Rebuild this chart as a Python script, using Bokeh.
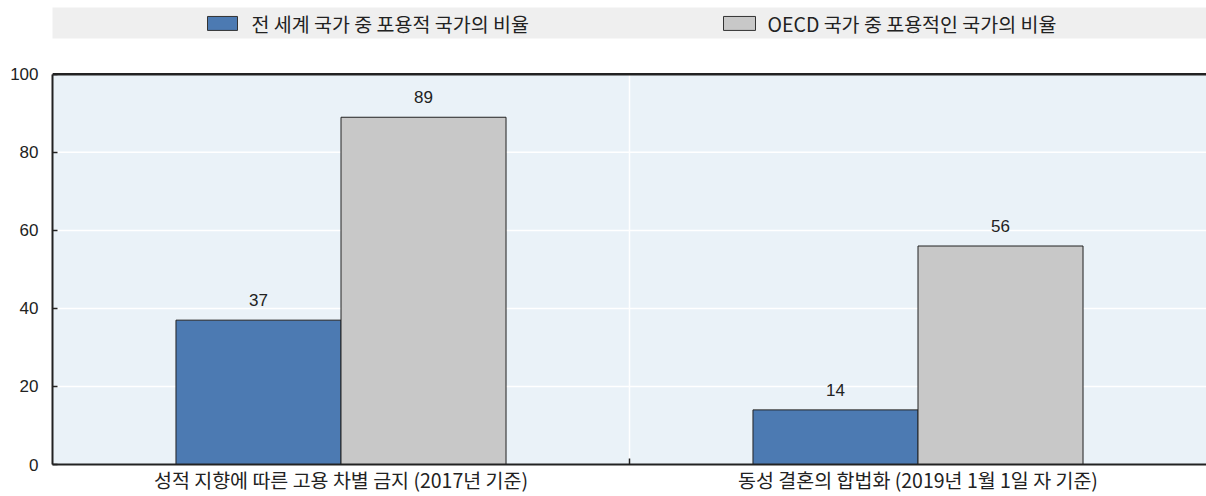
from bokeh.plotting import figure
from bokeh.models import Range1d, FixedTicker, ColumnDataSource
from bokeh.embed import file_html
from bokeh.resources import INLINE
from bokeh.core.properties import value
import numpy as np

# ---- data ----
categories = ["성적 지향에 따른 고용 차별 금지 (2017년 기준)", "동성 결혼의 합법화 (2019년 1월 1일 자 기준)"]
series_names = ["전 세계 국가 중 포용적 국가의 비율", "OECD 국가 중 포용적인 국가의 비율"]
world_values = [37, 14]
oecd_values = [89, 56]
y_ticks = [0, 20, 40, 60, 80, 100]

BLUE = "#4C7AB2"
GRAY = "#C8C8C8"
BG = "#EAF2F8"
BAND = "#EFEFEF"
DARK = "#222222"
TXT = "#222222"
KFONT = "Noto Sans CJK KR"
NFONT = "Liberation Sans"

W, H = 1206, 496
LEFT, BOTTOM = 52, 31
frame_w = W - LEFT
frame_h = H - BOTTOM
ymax_plot = 100.0
px_per_unit = 391.0 / ymax_plot          # 100 units span 391 px
y_top = frame_h / px_per_unit             # top of frame in data units
ncat = len(categories)
px_per_x = frame_w / ncat

def py(page_y):   # page pixel y -> data y
    return (frame_h - page_y) / px_per_unit

def px(page_x):   # page pixel x -> data x
    return (page_x - LEFT) / px_per_x

p = figure(width=W, height=H, x_range=Range1d(0, ncat), y_range=Range1d(0, y_top),
           toolbar_location=None, output_backend="svg",
           min_border_left=LEFT, min_border_right=0, min_border_top=0, min_border_bottom=BOTTOM)
p.background_fill_color = "white"
p.border_fill_color = "white"
p.outline_line_color = None
p.grid.visible = False

# plot-area background
p.quad(left=[0], right=[ncat], bottom=[0], top=[ymax_plot], fill_color=BG, line_color=None)
# horizontal white grid lines
gy = y_ticks[1:-1]
p.segment(x0=[0] * len(gy), x1=[ncat] * len(gy), y0=gy, y1=gy, line_color="white", line_width=1.5)
# vertical separator between categories
sep = list(np.arange(1, ncat))
p.segment(x0=sep, x1=sep, y0=[0] * len(sep), y1=[ymax_plot] * len(sep), line_color="white", line_width=1.5)

xc = np.arange(ncat) + 0.5
bw = 0.286
src = ColumnDataSource(dict(xw=xc - bw / 2, xo=xc + bw / 2, w=world_values, o=oecd_values,
                            wl=[str(v) for v in world_values], ol=[str(v) for v in oecd_values]))
p.vbar(x="xw", top="w", width=bw, bottom=0, source=src, fill_color=BLUE, line_color=DARK, line_width=1)
p.vbar(x="xo", top="o", width=bw, bottom=0, source=src, fill_color=GRAY, line_color=DARK, line_width=1)
p.text(x="xw", y="w", text="wl", source=src, y_offset=-14, text_align="center", text_baseline="bottom",
       text_font=value(NFONT), text_font_size="17px", text_color=TXT)
p.text(x="xo", y="o", text="ol", source=src, y_offset=-14, text_align="center", text_baseline="bottom",
       text_font=value(NFONT), text_font_size="17px", text_color=TXT)

# top border line
p.segment(x0=[0], x1=[ncat], y0=[ymax_plot], y1=[ymax_plot], line_color=DARK, line_width=2.5)

# legend strip (above plot area)
p.quad(left=[px(50)], right=[ncat], top=[py(7)], bottom=[py(38)], fill_color=BAND, line_color=None)
p.quad(left=[px(207), px(723)], right=[px(237), px(755)], top=[py(16)] * 2, bottom=[py(30)] * 2,
       fill_color=[BLUE, GRAY], line_color="#333333", line_width=1)
p.text(x=[px(251), px(767)], y=[py(23)] * 2, text=series_names, text_font=value(KFONT),
       text_font_size="19.5px", text_baseline="middle", text_align="left", text_color=TXT)

# y axis
p.yaxis.bounds = (0, ymax_plot)
p.yaxis.ticker = FixedTicker(ticks=y_ticks)
p.yaxis.major_tick_in = 5
p.yaxis.major_tick_out = 0
p.yaxis.minor_tick_line_color = None
p.yaxis.major_label_standoff = 14
p.yaxis.major_label_text_font = NFONT
p.yaxis.major_label_text_font_size = "17px"
p.yaxis.major_label_text_color = TXT
p.yaxis.axis_line_color = DARK
p.yaxis.axis_line_width = 2
p.yaxis.major_tick_line_color = DARK
p.yaxis.major_tick_line_width = 1.5

# x axis
p.xaxis.ticker = FixedTicker(ticks=list(xc), minor_ticks=[float(s) for s in sep])
p.xaxis.major_label_overrides = {float(x): c for x, c in zip(xc, categories)}
p.xaxis.major_tick_in = 0
p.xaxis.major_tick_out = 0
p.xaxis.minor_tick_in = 6
p.xaxis.minor_tick_out = 0
p.xaxis.minor_tick_line_color = DARK
p.xaxis.minor_tick_line_width = 1.5
p.xaxis.major_label_standoff = 0
p.xaxis.major_label_text_font = KFONT
p.xaxis.major_label_text_font_size = "19.5px"
p.xaxis.major_label_text_color = TXT
p.xaxis.axis_line_color = DARK
p.xaxis.axis_line_width = 2

open("out.html", "w").write(file_html(p, INLINE))
